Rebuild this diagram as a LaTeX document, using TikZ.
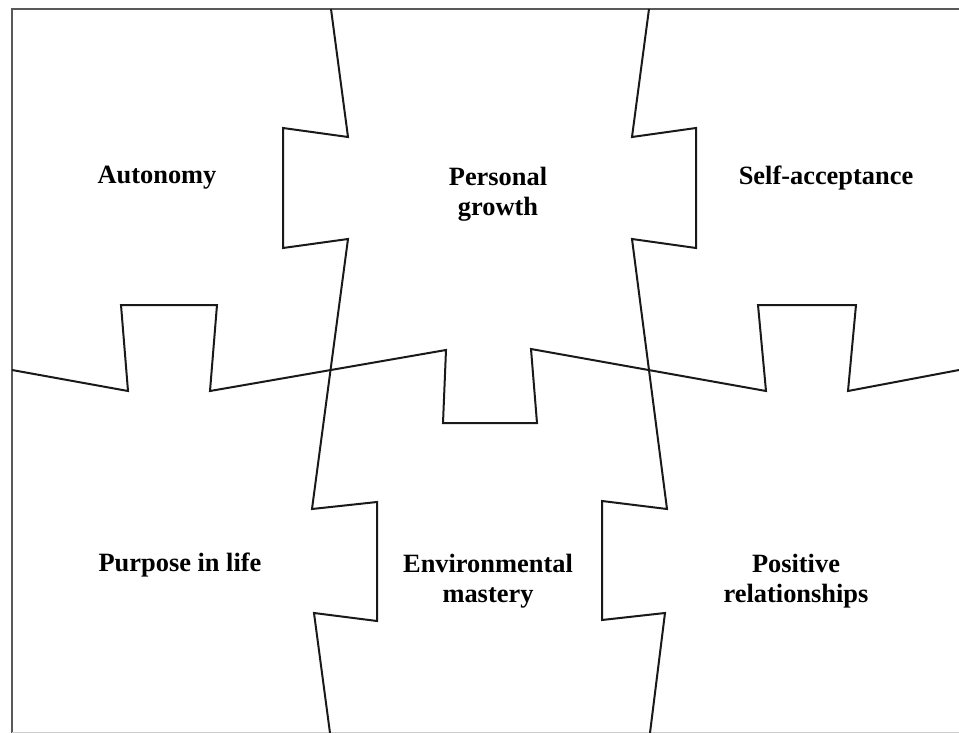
\documentclass[tikz,border=0pt]{standalone}
\usepackage{fontspec}
\setmainfont{Liberation Serif}
\usepackage{tikz}

\tikzset{
    cut/.style={line width=2pt, line join=miter, black!90},
    piece/.style={font=\fontsize{26.4}{30}\selectfont\bfseries, align=center, inner sep=0pt},
}

\begin{document}
\begin{tikzpicture}[x=1pt, y=-1pt]
        \useasboundingbox (0,0) rectangle (959,733);

        % frame
        \draw[line width=2.5pt, black!65] (959,9) -- (12,9) -- (12,733);
        \draw[line width=1pt, black!20] (12,732) -- (959,732);

        % cut between the upper and lower rows
        \draw[cut] (12,370) -- (128,391) -- (121,305) -- (217,305) -- (210,391)
            -- (446,350) -- (443,423) -- (537,423) -- (531,349)
            -- (766,391) -- (758,305) -- (856,305) -- (848,391) -- (959,370);

        % left and right columns
        \draw[cut] (331,9) -- (348,137) -- (283,128) -- (283,248) -- (348,239)
            -- (312,509) -- (377,502) -- (377,621) -- (314,613) -- (330,733);
        \draw[cut] (649,9) -- (632,137) -- (696,128) -- (696,248) -- (632,239)
            -- (667,509) -- (602,501) -- (602,620) -- (665,613) -- (650,733);

        % labels
        \node[piece] (autonomy) at (157,178) {Autonomy};
        \node[piece] (growth) at (498,194) {Personal\\growth};
        \node[piece] (accept) at (826,178) {Self-acceptance};
        \node[piece] (purpose) at (180,565) {Purpose in life};
        \node[piece] (mastery) at (488,581) {Environmental\\mastery};
        \node[piece] (relations) at (796,581) {Positive\\relationships};
        \end{tikzpicture}
\end{document}
